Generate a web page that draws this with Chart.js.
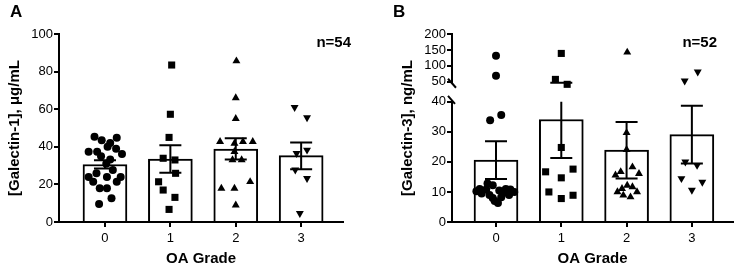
<!DOCTYPE html>
<html>
<head>
<meta charset="utf-8">
<script src="https://cdn.jsdelivr.net/npm/chart.js@4/dist/chart.umd.min.js"></script>
<style>
  body { margin: 0; background: #fff; }
  #wrap { position: relative; width: 743px; height: 273px; }
  canvas { position: absolute; top: 0; }
</style>
</head>
<body>
<div id="wrap">
  <canvas id="chartA" width="370" height="273" style="left:0"></canvas>
  <canvas id="chartB" width="373" height="273" style="left:370px"></canvas>
</div>
<script>
// grados de artrosis (eje x)
const grados = [0, 1, 2, 3];

// Panel A: Galectina-1 (ug/mL), media y SEM
const mediaA = [30.6, 33.5, 38.8, 35.3];
const semBajoA = [28.4, 26.2, 33.3, 28.1];
const semAltoA = [32.9, 40.8, 44.5, 42.3];

// puntos individuales A (valor y desplazamiento horizontal)
const a0y = [45.4, 43.5, 44.8, 42, 37.4, 37.4, 40, 39, 35, 36.2, 33.3, 31, 27.7, 25.9, 24, 24, 24, 21.4, 21.4, 17.9, 17.9, 12.6, 9.6];
const a0x = [-0.16, -0.05, 0.18, 0.08, -0.25, -0.12, 0.04, 0.17, -0.06, 0.26, 0.08, 0.02, 0.12, -0.13, -0.25, 0.03, 0.24, -0.18, 0.18, -0.08, 0.03, 0.10, -0.09];
const a1y = [83.5, 57.3, 45, 33.9, 33, 25.9, 21.4, 17, 13.1, 6.7];
const a1x = [0.02, 0, -0.02, -0.11, 0.07, 0.08, -0.18, -0.11, 0.07, -0.02];
const a2y = [85.6, 66, 55, 42.7, 41.8, 42.7, 42.7, 37.4, 33, 33, 21.4, 17.9, 17.9, 9];
const a2x = [0.01, 0, 0, -0.24, -0.02, 0.11, 0.26, -0.02, -0.05, 0.09, 0.22, -0.22, -0.02, 0];
const a3y = [61, 55.5, 38.3, 36.5, 27.7, 23.2, 4.6];
const a3x = [-0.1, 0.09, 0.09, -0.07, -0.09, 0.09, -0.02];

// Panel B: Galectina-3 (ng/mL), media y SEM
const mediaB = [20.6, 34.1, 23.9, 29.1];
const semBajoB = [14.3, 21.3, 14.5, 19.5];
const semAltoB = [26.9, 47, 33.3, 38.7];

// puntos B por debajo del corte (0-40)
const b0y = [35.6, 33.9, 12.8, 12.2, 11, 10.8, 11, 10.8, 10.2, 10.5, 10, 9.5, 9.7, 9, 9, 8, 8.2, 7, 6.3];
const b0x = [0.08, -0.09, -0.13, -0.05, -0.25, -0.15, 0.15, 0.22, -0.3, 0.05, 0.28, -0.22, 0.12, -0.1, 0.2, -0.05, 0.08, -0.02, 0.03];
const b1y = [24.8, 17.6, 16.7, 14.7, 10, 8.9, 7.8];
const b1x = [0, 0.18, -0.24, 0, -0.19, 0.18, 0];
const b2y = [29.7, 24.1, 18.3, 16.7, 15.6, 16.1, 12.2, 11.7, 11.1, 10, 10, 8.9, 8.3];
const b2x = [0, 0, 0.09, -0.09, -0.17, 0.19, 0.01, 0.09, -0.07, 0.16, -0.14, -0.05, 0.06];
const b3y = [20, 18.9, 14.5, 13.3, 10.6];
const b3x = [-0.1, 0.08, -0.16, 0.16, 0];

// puntos B por encima del corte (50-200)
const b0yAlto = [132, 69];
const b0xAlto = [0, 0];
const b1yAlto = [139, 57.5, 42];
const b1xAlto = [0, -0.09, 0.09];
const b2yAlto = [142.5];
const b2xAlto = [0.01];
const b3yAlto = [81, 53];
const b3xAlto = [0.09, -0.11];

Chart.defaults.font.family = "'Liberation Sans', Arial, sans-serif";
Chart.defaults.color = '#000';

const puntos = (xs, ys, g) => ys.map((v, i) => ({ x: g + xs[i], y: v }));

const marcadores = [
  { pointStyle: 'circle', radius: 4, rotation: 0 },
  { pointStyle: 'rect', radius: 5, rotation: 0 },
  { pointStyle: 'triangle', radius: 4.6, rotation: 0 },
  { pointStyle: 'triangle', radius: 4.6, rotation: 180 }
];

function serie(data, g, eje) {
  const m = marcadores[g];
  return {
    type: 'scatter',
    data: data,
    yAxisID: eje || 'y',
    pointStyle: m.pointStyle,
    pointRadius: m.radius,
    pointRotation: m.rotation,
    pointBackgroundColor: '#000',
    pointBorderWidth: 0,
    clip: false,
    order: 0
  };
}

function barras(medias) {
  return {
    type: 'bar',
    data: grados.map((g, i) => ({ x: g, y: medias[i] })),
    yAxisID: 'y',
    backgroundColor: '#fff',
    borderColor: '#000',
    borderWidth: 2,
    barThickness: 44,
    clip: false,
    order: 1
  };
}

// barras de error (SEM), con salto de eje si hace falta
const barrasError = {
  id: 'barrasError',
  afterDatasetsDraw(chart, args, opts) {
    const { ctx, scales } = chart;
    const x = scales.x, y = scales.y, yAlto = scales.yAlto;
    ctx.save();
    ctx.strokeStyle = '#000';
    ctx.lineWidth = 2;
    opts.bajo.forEach((lo, i) => {
      const hi = opts.alto[i];
      const px = x.getPixelForValue(grados[i]);
      const pLo = y.getPixelForValue(lo);
      let pHi, pTope;
      if (yAlto && hi > y.max) {
        pTope = y.getPixelForValue(y.max);
        pHi = yAlto.getPixelForValue(hi);
      } else {
        pTope = pHi = y.getPixelForValue(hi);
      }
      ctx.beginPath();
      ctx.moveTo(px, pLo); ctx.lineTo(px, pTope);
      ctx.moveTo(px - 11, pLo); ctx.lineTo(px + 11, pLo);
      ctx.moveTo(px - 11, pHi); ctx.lineTo(px + 11, pHi);
      ctx.stroke();
    });
    ctx.restore();
  }
};

// letras de panel, n y marcas de corte
const rotulos = {
  id: 'rotulos',
  afterDraw(chart, args, opts) {
    const { ctx } = chart;
    ctx.save();
    ctx.fillStyle = '#000';
    ctx.textBaseline = 'alphabetic';
    ctx.font = "bold 17px 'Liberation Sans', Arial, sans-serif";
    ctx.textAlign = 'left';
    ctx.fillText(opts.letra, opts.letraX, 17);
    ctx.font = "bold 15px 'Liberation Sans', Arial, sans-serif";
    ctx.textAlign = 'right';
    ctx.fillText(opts.n, opts.nX, 47);
    if (opts.tituloY) {
      const s = chart.scales.y, u = chart.scales.yAlto;
      const cy = (u.top + s.bottom) / 2;
      ctx.translate(opts.tituloX, cy);
      ctx.rotate(-Math.PI / 2);
      ctx.textAlign = 'center';
      ctx.textBaseline = 'middle';
      ctx.fillText(opts.tituloY, 0, 0);
      ctx.setTransform(1, 0, 0, 1, 0, 0);
      // marcas del corte del eje
      const ax = s.right;
      ctx.strokeStyle = '#000';
      ctx.lineWidth = 2;
      ctx.beginPath();
      ctx.moveTo(ax - 4, u.bottom - 3); ctx.lineTo(ax + 4, u.bottom + 6);
      ctx.moveTo(ax - 4, s.top - 6); ctx.lineTo(ax + 3, s.top + 2);
      ctx.stroke();
    }
    ctx.restore();
  }
};

const fuenteTicks = { size: 13 };
const fuenteTitulo = { size: 15, weight: 'bold' };
const rejilla = { drawOnChartArea: false, drawTicks: true, tickLength: 5, color: '#000', lineWidth: 2, offset: false };
const borde = { color: '#000', width: 2 };

function ejeX(min, max) {
  return {
    type: 'linear', min: min, max: max, offset: false,
    afterBuildTicks: s => { s.ticks = grados.map(v => ({ value: v })); },
    afterFit: s => { s.height = 51; },
    ticks: { font: fuenteTicks, padding: 4, autoSkip: false },
    grid: rejilla, border: borde,
    title: { display: true, text: 'OA Grade', font: fuenteTitulo, padding: { top: 0, bottom: 5 } }
  };
}

new Chart(document.getElementById('chartA'), {
  type: 'bar',
  data: {
    datasets: [
      barras(mediaA),
      serie(puntos(a0x, a0y, 0), 0),
      serie(puntos(a1x, a1y, 1), 1),
      serie(puntos(a2x, a2y, 2), 2),
      serie(puntos(a3x, a3y, 3), 3)
    ]
  },
  options: {
    responsive: false,
    animation: false,
    layout: { padding: { left: 0, right: 27, top: 34, bottom: 0 } },
    plugins: {
      legend: { display: false },
      tooltip: { enabled: false },
      barrasError: { bajo: semBajoA, alto: semAltoA },
      rotulos: { letra: 'A', letraX: 10, n: 'n=54', nX: 351 }
    },
    scales: {
      x: ejeX(-0.703, 3.64),
      y: {
        min: 0, max: 100,
        afterFit: s => { s.width = 59; },
        ticks: { stepSize: 20, font: fuenteTicks, padding: 1, autoSkip: false },
        grid: rejilla, border: borde,
        title: { display: true, text: '[Galectin-1], μg/mL', font: fuenteTitulo, padding: { top: 6, bottom: 0 } }
      }
    }
  },
  plugins: [barrasError, rotulos]
});

new Chart(document.getElementById('chartB'), {
  type: 'bar',
  data: {
    datasets: [
      barras(mediaB),
      serie(puntos(b0x, b0y, 0), 0),
      serie(puntos(b1x, b1y, 1), 1),
      serie(puntos(b2x, b2y, 2), 2),
      serie(puntos(b3x, b3y, 3), 3),
      serie(puntos(b0xAlto, b0yAlto, 0), 0, 'yAlto'),
      serie(puntos(b1xAlto, b1yAlto, 1), 1, 'yAlto'),
      serie(puntos(b2xAlto, b2yAlto, 2), 2, 'yAlto'),
      serie(puntos(b3xAlto, b3yAlto, 3), 3, 'yAlto')
    ]
  },
  options: {
    responsive: false,
    animation: false,
    layout: { padding: { left: 0, right: 10, top: 34, bottom: 0 } },
    plugins: {
      legend: { display: false },
      tooltip: { enabled: false },
      barrasError: { bajo: semBajoB, alto: semAltoB },
      rotulos: { letra: 'B', letraX: 23, n: 'n=52', nX: 347, tituloY: '[Galectin-3], ng/mL', tituloX: 38 }
    },
    scales: {
      x: ejeX(-0.674, 3.63),
      yAlto: {
        position: 'left', stack: 'ejeB', stackWeight: 47.7, weight: 3,
        min: 50, max: 200,
        afterFit: s => { s.width = 82; },
        ticks: { stepSize: 50, font: fuenteTicks, padding: 1, autoSkip: false },
        grid: rejilla, border: borde
      },
      yHueco: {
        position: 'left', stack: 'ejeB', stackWeight: 20, weight: 2,
        display: false, min: 40, max: 50
      },
      y: {
        position: 'left', stack: 'ejeB', stackWeight: 120, weight: 1,
        min: 0, max: 40,
        afterFit: s => { s.width = 82; },
        ticks: { stepSize: 10, font: fuenteTicks, padding: 1, autoSkip: false },
        grid: rejilla, border: borde
      }
    }
  },
  plugins: [barrasError, rotulos]
});
</script>
</body>
</html>
